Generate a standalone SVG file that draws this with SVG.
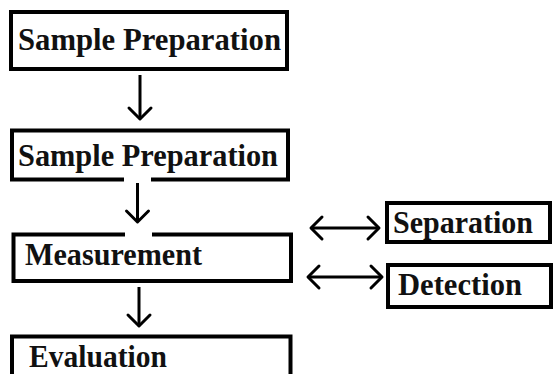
<svg xmlns="http://www.w3.org/2000/svg" width="553" height="374" viewBox="0 0 553 374">
<style>
.box{fill:#fff;stroke:#000;stroke-width:4}
.lbl{font-family:"Liberation Serif","Times New Roman",serif;font-weight:bold;font-size:31px;fill:#111}
.con{fill:none;stroke:#000;stroke-width:3;marker-end:url(#v)}
.dbl{marker-start:url(#v)}
.patch{fill:#fff;stroke:none}
</style>
<defs>
<marker id="v" markerUnits="userSpaceOnUse" viewBox="-15 -15 30 30" refX="0" refY="0" markerWidth="30" markerHeight="30" orient="auto-start-reverse" overflow="visible">
<path d="M-11,-11 L0,0 L-11,11" fill="none" stroke="#000" stroke-width="3" stroke-linejoin="round" stroke-linecap="round"/>
</marker>
</defs>
<rect width="553" height="374" fill="#fff"/>
<g id="n1"><rect class="box" x="11" y="12" width="276" height="57"/><text class="lbl" x="18" y="50" textLength="263" lengthAdjust="spacingAndGlyphs">Sample Preparation</text></g>
<g id="n2"><rect class="box" x="12" y="130.5" width="276" height="49"/><text class="lbl" x="18" y="166" textLength="260" lengthAdjust="spacingAndGlyphs">Sample Preparation</text></g>
<g id="n3"><rect class="box" x="13.5" y="234.5" width="277.5" height="46.5"/><text class="lbl" x="25" y="265" textLength="177" lengthAdjust="spacingAndGlyphs">Measurement</text></g>
<g id="n4"><rect class="box" x="12" y="336.5" width="278.5" height="50"/><text class="lbl" x="29" y="367" textLength="138" lengthAdjust="spacingAndGlyphs">Evaluation</text></g>
<g id="n5"><rect class="box" x="387" y="203" width="163" height="39"/><text class="lbl" x="393" y="233" textLength="140" lengthAdjust="spacingAndGlyphs">Separation</text></g>
<g id="n6"><rect class="box" x="388" y="265" width="163" height="42"/><text class="lbl" x="398" y="295" textLength="124" lengthAdjust="spacingAndGlyphs">Detection</text></g>
<g id="connectors">
<rect class="patch" x="124" y="176" width="27" height="8"/>
<rect class="patch" x="125" y="231" width="27" height="7"/>
<line class="con" x1="140" y1="75" x2="140" y2="119"/>
<line class="con" x1="137.5" y1="183" x2="137.5" y2="222"/>
<line class="con" x1="139" y1="287" x2="139" y2="326"/>
<line class="con dbl" x1="311" y1="228" x2="379" y2="228"/>
<line class="con dbl" x1="308" y1="277" x2="382" y2="277"/>
</g>
</svg>
